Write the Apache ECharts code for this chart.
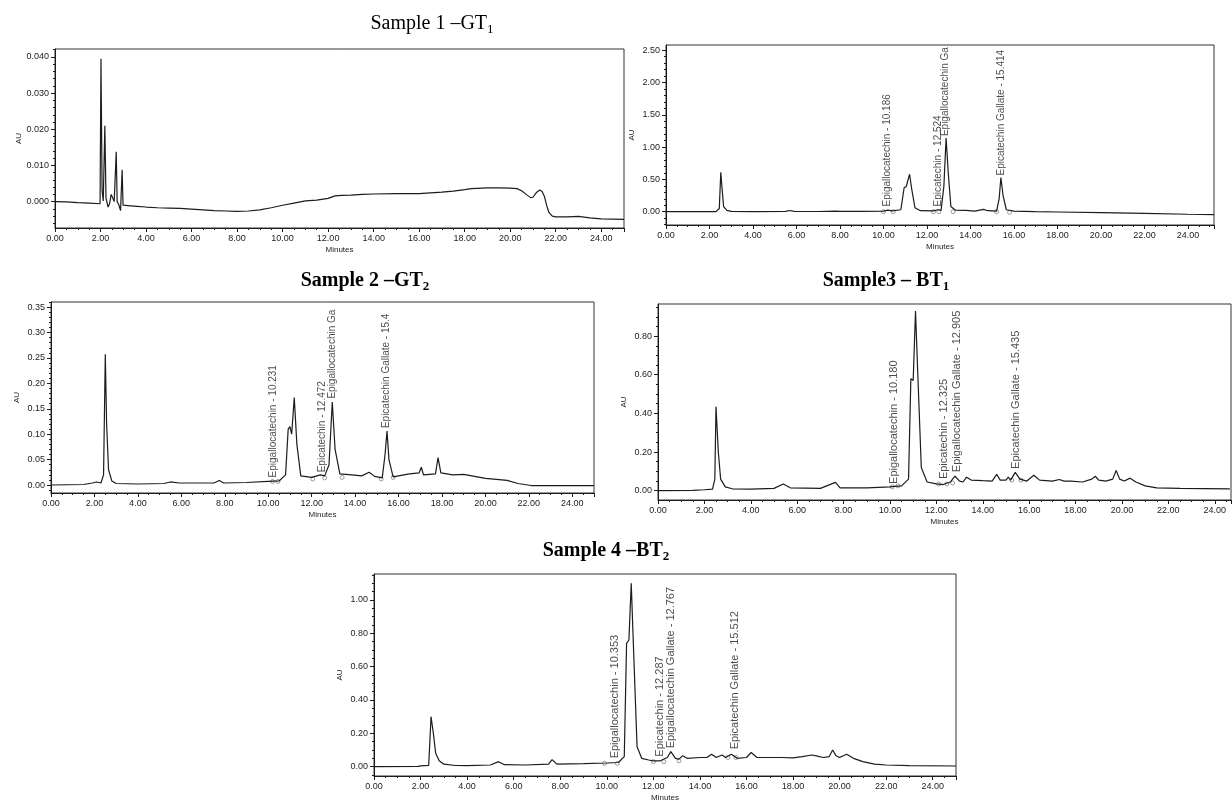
<!DOCTYPE html>
<html>
<head>
<meta charset="utf-8">
<title>HPLC chromatograms of tea samples</title>
<script src="https://cdn.jsdelivr.net/npm/echarts@6/dist/echarts.min.js"></script>
<style>
  html, body { margin: 0; padding: 0; background: #fff; }
  #chart { width: 1232px; height: 800px; }
</style>
</head>
<body>
<div id="chart"></div>
<script>
// ---- values: [minutes, AU] ----
const s1Trace = [[0,0.0000],[0.5,-0.0001],[1.0,-0.0003],[1.5,-0.0004],[1.98,-0.0006],[2.02,0.0395],[2.07,0.0030],[2.12,0.0002],[2.19,0.0210],[2.24,0.0010],[2.33,-0.0015],[2.40,-0.0005],[2.47,0.0020],[2.54,0.0018],[2.60,0.0000],[2.66,0.0005],[2.69,0.0138],[2.73,0.0000],[2.80,-0.0008],[2.88,-0.0025],[2.92,-0.0030],[2.95,0.0088],[2.99,-0.0010],[3.2,-0.0011],[3.6,-0.0013],[4.0,-0.0015],[4.5,-0.0017],[5.0,-0.0018],[5.5,-0.0019],[6.0,-0.0021],[6.5,-0.0023],[7.0,-0.0025],[7.5,-0.0026],[8.0,-0.0027],[8.5,-0.0026],[9.0,-0.0023],[9.5,-0.0017],[10.0,-0.0010],[10.5,-0.0004],[11.0,0.0002],[11.5,0.0004],[12.0,0.0009],[12.3,0.0016],[12.6,0.0017],[13.0,0.0018],[13.5,0.0020],[14.0,0.0021],[15.0,0.0022],[16.0,0.0022],[17.0,0.0026],[17.5,0.0029],[18.0,0.0033],[18.3,0.0036],[18.32,0.0041],[18.35,0.0036],[19.0,0.0038],[19.5,0.0038],[20.0,0.0037],[20.3,0.0036],[20.5,0.0030],[20.7,0.0020],[20.9,0.0011],[21.0,0.0012],[21.15,0.0025],[21.3,0.0032],[21.4,0.0028],[21.5,0.0015],[21.6,-0.0010],[21.7,-0.0030],[21.85,-0.0040],[22.0,-0.0042],[22.5,-0.0042],[23.0,-0.0041],[23.5,-0.0045],[24.0,-0.0048],[25.0,-0.0049]];

const stdTrace = [[0,0.000],[1.5,0.000],[2.3,0.002],[2.45,0.05],[2.52,0.61],[2.58,0.35],[2.65,0.08],[2.8,0.02],[3.0,0.006],[4.0,0.002],[5.5,0.004],[5.7,0.018],[5.9,0.006],[7.0,0.003],[7.8,0.01],[8.0,0.004],[9.0,0.006],[10.0,0.01],[10.2,0.025],[10.4,0.012],[10.8,0.03],[10.95,0.37],[11.05,0.39],[11.1,0.36],[11.2,0.58],[11.3,0.35],[11.45,0.06],[11.7,0.015],[12.3,0.012],[12.5,0.03],[12.65,0.02],[12.78,0.4],[12.88,1.14],[12.98,0.6],[13.1,0.08],[13.3,0.025],[13.8,0.02],[14.2,0.01],[14.6,0.035],[14.8,0.015],[15.2,0.01],[15.32,0.2],[15.4,0.53],[15.5,0.25],[15.65,0.03],[16.0,0.008],[17.0,0.0],[18.0,-0.005],[20.0,-0.015],[22.0,-0.025],[24.0,-0.04],[25.2,-0.045]];

const s2Trace = [[0,0.000],[1.5,0.001],[1.9,0.004],[2.1,0.006],[2.3,0.004],[2.42,0.02],[2.5,0.257],[2.56,0.12],[2.65,0.03],[2.8,0.008],[3.0,0.003],[4.0,0.002],[5.2,0.003],[5.5,0.006],[5.9,0.004],[7.5,0.004],[7.75,0.009],[7.95,0.004],[9.0,0.005],[10.0,0.007],[10.5,0.008],[10.8,0.02],[10.92,0.11],[11.0,0.115],[11.08,0.1],[11.2,0.172],[11.32,0.08],[11.5,0.018],[12.0,0.015],[12.4,0.02],[12.6,0.018],[12.8,0.04],[12.95,0.163],[13.08,0.07],[13.3,0.022],[13.85,0.02],[14.3,0.018],[14.65,0.025],[14.9,0.017],[15.25,0.014],[15.38,0.06],[15.47,0.106],[15.56,0.05],[15.75,0.016],[16.5,0.022],[16.95,0.024],[17.05,0.035],[17.15,0.02],[17.7,0.022],[17.82,0.054],[17.95,0.024],[18.5,0.02],[19.0,0.021],[20.0,0.013],[21.0,0.009],[21.5,0.003],[22.1,-0.001],[25.0,-0.001]];

const s3Trace = [[0,0.000],[1.5,0.002],[2.0,0.005],[2.35,0.008],[2.45,0.06],[2.5,0.435],[2.6,0.2],[2.7,0.06],[2.9,0.02],[3.2,0.01],[4.0,0.008],[5.0,0.012],[5.4,0.035],[5.7,0.015],[7.0,0.012],[7.65,0.043],[7.85,0.015],[9.0,0.015],[10.0,0.02],[10.2,0.022],[10.5,0.025],[10.8,0.06],[10.9,0.58],[11.0,0.57],[11.1,0.93],[11.2,0.6],[11.35,0.12],[11.6,0.045],[12.0,0.035],[12.3,0.032],[12.6,0.045],[12.8,0.075],[13.0,0.05],[13.15,0.045],[13.3,0.07],[13.5,0.055],[14.0,0.052],[14.4,0.05],[14.6,0.085],[14.75,0.055],[15.0,0.055],[15.1,0.07],[15.2,0.055],[15.4,0.095],[15.6,0.06],[15.9,0.05],[16.2,0.08],[16.45,0.055],[17.0,0.05],[17.3,0.058],[17.5,0.05],[17.8,0.05],[18.3,0.045],[18.7,0.06],[18.85,0.075],[19.0,0.055],[19.3,0.05],[19.6,0.06],[19.75,0.105],[19.9,0.06],[20.1,0.05],[20.35,0.065],[20.6,0.045],[21.0,0.025],[21.5,0.015],[22.5,0.012],[24.65,0.01]];

const s4Trace = [[0,0.000],[1.9,0.002],[2.0,0.005],[2.35,0.008],[2.45,0.30],[2.55,0.2],[2.65,0.08],[2.8,0.035],[3.0,0.015],[3.5,0.007],[4.0,0.006],[5.0,0.01],[5.35,0.03],[5.6,0.012],[6.5,0.01],[7.5,0.015],[7.65,0.042],[7.85,0.015],[9.0,0.018],[10.0,0.022],[10.5,0.025],[10.75,0.06],[10.85,0.74],[10.95,0.76],[11.05,1.10],[11.15,0.7],[11.3,0.12],[11.5,0.05],[11.8,0.04],[12.0,0.035],[12.3,0.035],[12.6,0.055],[12.75,0.09],[12.95,0.05],[13.1,0.045],[13.25,0.065],[13.45,0.05],[14.0,0.055],[14.3,0.055],[14.5,0.075],[14.7,0.055],[14.95,0.07],[15.1,0.055],[15.35,0.075],[15.6,0.05],[16.0,0.055],[16.2,0.085],[16.45,0.055],[17.0,0.055],[17.5,0.055],[18.0,0.053],[18.4,0.06],[18.8,0.07],[19.0,0.065],[19.3,0.055],[19.55,0.06],[19.7,0.1],[19.85,0.065],[20.0,0.055],[20.3,0.075],[20.6,0.05],[21.0,0.03],[21.5,0.015],[22.0,0.01],[23.0,0.006],[25.0,0.004]];

// peak annotations: text and where the rotated text starts [minutes, AU]
const stdPeakNames = ['Epigallocatechin - 10.186', 'Epicatechin - 12.524', 'Epigallocatechin Ga', 'Epicatechin Gallate - 15.414'];
const stdPeakAt = [[10.19, 0.08], [12.52, 0.08], [12.86, 1.17], [15.41, 0.56]];
const s2PeakNames = ['Epigallocatechin - 10.231', 'Epicatechin - 12.472', 'Epigallocatechin Ga', 'Epicatechin Gallate - 15.4'];
const s2PeakAt = [[10.23, 0.015], [12.47, 0.025], [12.95, 0.17], [15.45, 0.112]];
const s3PeakNames = ['Epigallocatechin - 10.180', 'Epicatechin - 12.325', 'Epigallocatechin Gallate - 12.905', 'Epicatechin Gallate - 15.435'];
const s3PeakAt = [[10.18, 0.035], [12.33, 0.06], [12.9, 0.096], [15.44, 0.113]];
const s4PeakNames = ['Epigallocatechin - 10.353', 'Epicatechin - 12.287', 'Epigallocatechin Gallate - 12.767', 'Epicatechin Gallate - 15.512'];
const s4PeakAt = [[10.35, 0.05], [12.29, 0.06], [12.77, 0.11], [15.51, 0.104]];

// integration marks on the baseline
const stdMarks = [[10.0,0.0],[10.45,0.0],[12.3,0.0],[12.55,0.0],[13.2,0.0],[15.2,0.0],[15.8,-0.01]];
const s2Marks = [[10.2,0.007],[10.45,0.007],[12.05,0.012],[12.6,0.014],[13.4,0.015],[15.2,0.012],[15.75,0.015]];
const s3Marks = [[10.1,0.02],[10.35,0.025],[12.1,0.035],[12.45,0.035],[12.7,0.04],[15.25,0.055],[15.65,0.055]];
const s4Marks = [[9.9,0.02],[10.45,0.02],[12.0,0.03],[12.45,0.03],[13.1,0.035],[15.2,0.055],[15.55,0.055]];

// axis tick labels
const s1YTicks = [0, 0.01, 0.02, 0.03, 0.04];
const stdYTicks = [0, 0.5, 1, 1.5, 2, 2.5];
const s2YTicks = [0, 0.05, 0.10, 0.15, 0.20, 0.25, 0.30, 0.35];
const s3YTicks = [0, 0.2, 0.4, 0.6, 0.8];
const s4YTicks = [0, 0.2, 0.4, 0.6, 0.8, 1.0];

const titleTexts = ['Sample 1 –GT', 'Sample 2 –GT', 'Sample3 – BT', 'Sample 4 –BT'];
const titleSubs = ['1', '2', '1', '2'];

// ---- layout ----
const INK = '#1c1c1c';
const SANS = '"Liberation Sans", Arial, sans-serif';
const SERIF = '"Liberation Serif", "Times New Roman", serif';

const panels = [
  { box: [55, 49, 569, 179],  xMax: 25,   yMin: -0.0073, yMax: 0.0422, major: s1YTicks,  minorStep: 0.002, digits: 3, trace: s1Trace },
  { box: [666, 45, 548, 180], xMax: 25.2, yMin: -0.206,  yMax: 2.58,   major: stdYTicks, minorStep: 0.1,   digits: 2, trace: stdTrace, names: stdPeakNames, at: stdPeakAt, marks: stdMarks, font: 10 },
  { box: [51, 302, 543, 191], xMax: 25,   yMin: -0.0157, yMax: 0.36,   major: s2YTicks,  minorStep: 0.01,  digits: 2, trace: s2Trace, names: s2PeakNames, at: s2PeakAt, marks: s2Marks, font: 10 },
  { box: [658, 304, 573, 196], xMax: 24.7, yMin: -0.048, yMax: 0.966,  major: s3YTicks,  minorStep: 0.05,  digits: 2, trace: s3Trace, names: s3PeakNames, at: s3PeakAt, marks: s3Marks, font: 11 },
  { box: [374, 574, 582, 202], xMax: 25,   yMin: -0.056, yMax: 1.156,  major: s4YTicks,  minorStep: 0.05,  digits: 2, trace: s4Trace, names: s4PeakNames, at: s4PeakAt, marks: s4Marks, font: 11 }
];

const titlePos = [[432, 24, 'normal'], [365, 281, 'bold'], [886, 281, 'bold'], [606, 551, 'bold']];

function steps(from, to, d) {
  const out = [];
  for (let v = Math.ceil(from / d) * d; v <= to + 1e-9; v += d) out.push(+v.toFixed(6));
  return out;
}

const grid = [], xAxis = [], yAxis = [], series = [];

panels.forEach(function (p, i) {
  grid.push({
    left: p.box[0], top: p.box[1], width: p.box[2], height: p.box[3],
    show: true, borderColor: '#333', borderWidth: 1, backgroundColor: 'transparent',
    outerBoundsMode: 'none'
  });
  xAxis.push({
    type: 'value', gridIndex: i, min: 0, max: p.xMax, interval: 2,
    name: 'Minutes', nameLocation: 'middle', nameGap: 18,
    nameTextStyle: { fontSize: 8, color: INK, fontFamily: SANS },
    axisLine: { show: true, onZero: false, lineStyle: { color: INK, width: 1 } },
    axisTick: { show: true, length: 4, lineStyle: { color: INK } },
    minorTick: { show: true, splitNumber: 4, length: 2, lineStyle: { color: INK } },
    splitLine: { show: false },
    axisLabel: {
      fontSize: 9, color: INK, fontFamily: SANS, margin: 6, showMaxLabel: false,
      formatter: function (v) { return v.toFixed(2); }
    }
  });
  // major ticks + labels
  yAxis.push({
    type: 'value', gridIndex: i, min: p.yMin, max: p.yMax, position: 'left',
    name: 'AU', nameLocation: 'middle', nameGap: 30, nameRotate: 90,
    nameTextStyle: { fontSize: 8, color: INK, fontFamily: SANS },
    axisLine: { show: true, onZero: false, lineStyle: { color: INK, width: 1 } },
    axisTick: { show: true, length: 4, customValues: p.major, lineStyle: { color: INK } },
    splitLine: { show: false },
    axisLabel: {
      fontSize: 9, color: INK, fontFamily: SANS, margin: 6, customValues: p.major,
      formatter: function (v) { return v.toFixed(p.digits); }
    }
  });
  // minor ticks
  yAxis.push({
    type: 'value', gridIndex: i, min: p.yMin, max: p.yMax, position: 'left',
    axisLine: { show: false },
    axisTick: { show: true, length: 2, customValues: steps(p.yMin, p.yMax, p.minorStep), lineStyle: { color: INK } },
    axisLabel: { show: false },
    splitLine: { show: false }
  });
  const yIdx = yAxis.length - 2;
  series.push({
    type: 'line', xAxisIndex: i, yAxisIndex: yIdx, data: p.trace,
    showSymbol: false, smooth: false, silent: true,
    lineStyle: { color: INK, width: 1.2 }
  });
  if (p.marks) {
    series.push({
      type: 'scatter', xAxisIndex: i, yAxisIndex: yIdx, data: p.marks,
      symbol: 'circle', symbolSize: 4, silent: true,
      itemStyle: { color: '#fff', borderColor: '#666', borderWidth: 0.8 }
    });
  }
  if (p.names) {
    series.push({
      type: 'scatter', xAxisIndex: i, yAxisIndex: yIdx, symbolSize: 0, silent: true,
      data: p.names.map(function (n, k) { return { name: n, value: p.at[k] }; }),
      label: {
        show: true, formatter: '{b}', position: 'top', distance: 0, rotate: 90,
        align: 'left', verticalAlign: 'middle',
        fontSize: p.font, color: INK, fontFamily: SANS
      }
    });
  }
});

const graphic = titleTexts.map(function (t, i) {
  const w = titlePos[i][2];
  return {
    type: 'text', x: titlePos[i][0], y: titlePos[i][1],
    style: {
      text: '{m|' + t + '}{s|' + titleSubs[i] + '}',
      align: 'center', verticalAlign: 'middle',
      rich: {
        m: { fontFamily: SERIF, fontSize: 20, fontWeight: w, fill: '#000', lineHeight: 24 },
        s: { fontFamily: SERIF, fontSize: 13, fontWeight: w, fill: '#000', lineHeight: 12, verticalAlign: 'bottom' }
      }
    }
  };
});

const chart = echarts.init(document.getElementById('chart'), null, { renderer: 'canvas' });
chart.setOption({
  backgroundColor: '#fff',
  animation: false,
  grid: grid,
  xAxis: xAxis,
  yAxis: yAxis,
  series: series,
  graphic: graphic
});
</script>
</body>
</html>
